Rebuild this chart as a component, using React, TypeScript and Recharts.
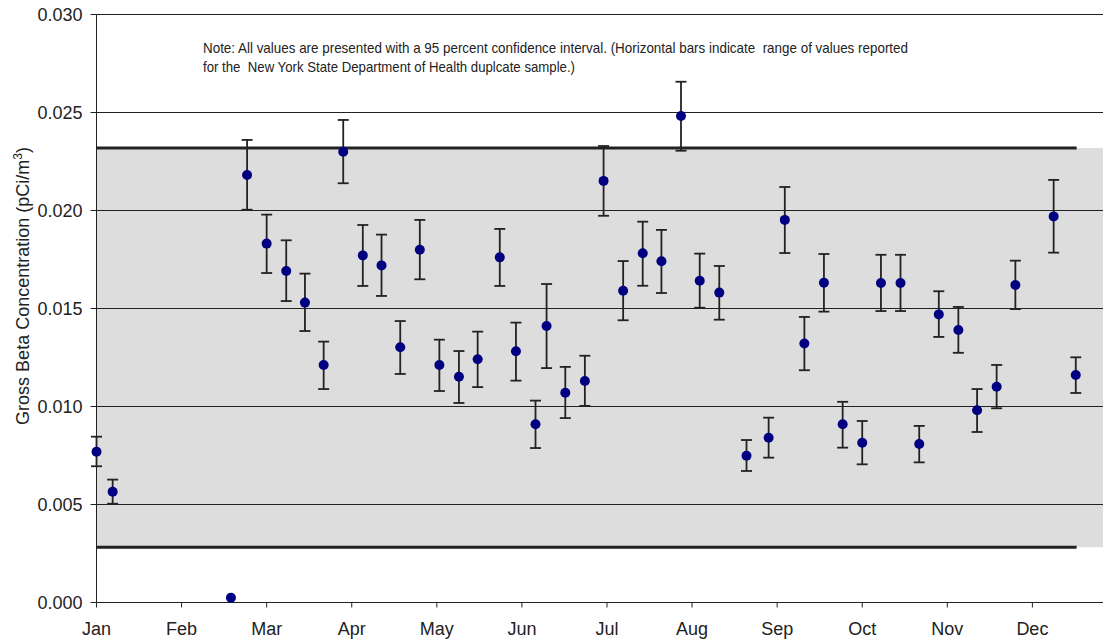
import React from 'react';
import {
  ScatterChart,
  Scatter,
  XAxis,
  YAxis,
  ErrorBar,
  ReferenceArea,
  ReferenceLine,
  Customized,
} from 'recharts';

const MONTHS = ['Jan', 'Feb', 'Mar', 'Apr', 'May', 'Jun', 'Jul', 'Aug', 'Sep', 'Oct', 'Nov', 'Dec'];
const MONTH_TICKS = [0, 1, 2, 3, 4, 5, 6, 7, 8, 9, 10, 11];
const Y_TICKS = [0, 0.005, 0.01, 0.015, 0.02, 0.025, 0.03];
const GRID_VALUES = [0.005, 0.01, 0.015, 0.02, 0.025, 0.03];

// sample date expressed in months from Jan 1
const SAMPLE_MONTH = [
  0.0, 0.19, 1.58, 1.77, 2.0, 2.23, 2.45, 2.67, 2.9, 3.13, 3.35, 3.57, 3.8, 4.03, 4.26, 4.48,
  4.74, 4.93, 5.16, 5.29, 5.51, 5.74, 5.96, 6.19, 6.42, 6.64, 6.87, 7.09, 7.32, 7.64, 7.9, 8.09,
  8.32, 8.55, 8.77, 9.0, 9.22, 9.45, 9.67, 9.9, 10.13, 10.35, 10.58, 10.8, 11.25, 11.51,
];
const GROSS_BETA = [
  0.00769, 0.00565, 0.00024, 0.02181, 0.01831, 0.01691, 0.0153, 0.01212, 0.023, 0.01771, 0.0172,
  0.01302, 0.018, 0.01212, 0.01152, 0.01241, 0.01761, 0.01282, 0.00909, 0.01411, 0.0107, 0.0113,
  0.02151, 0.01591, 0.01782, 0.01741, 0.02482, 0.01642, 0.01581, 0.00749, 0.00841, 0.01952,
  0.01321, 0.01631, 0.00909, 0.00815, 0.0163, 0.0163, 0.00809, 0.0147, 0.0139, 0.00981, 0.01101,
  0.0162, 0.0197, 0.01161,
];
// null = no confidence interval drawn
const CI_LOW: (number | null)[] = [
  0.00695, 0.00504, null, 0.02004, 0.01681, 0.01538, 0.01385, 0.01089, 0.02139, 0.01615,
  0.01564, 0.01166, 0.01649, 0.01079, 0.01018, 0.01099, 0.01615, 0.01132, 0.00788, 0.01196,
  0.00941, 0.01003, 0.01973, 0.0144, 0.01616, 0.01579, 0.02305, 0.01504, 0.01443, 0.00671,
  0.00739, 0.01783, 0.01185, 0.01484, 0.0079, 0.00705, 0.01487, 0.01487, 0.00715, 0.01355,
  0.01274, 0.0087, 0.00991, 0.01497, 0.01785, 0.01069,
];
const CI_HIGH: (number | null)[] = [
  0.00846, 0.00627, null, 0.0236, 0.01979, 0.01848, 0.01678, 0.01331, 0.02462, 0.01926,
  0.01877, 0.01436, 0.01952, 0.01341, 0.01283, 0.01382, 0.01906, 0.01428, 0.0103, 0.01625,
  0.01202, 0.01259, 0.02329, 0.01742, 0.01943, 0.01901, 0.02657, 0.0178, 0.01717, 0.00829,
  0.00943, 0.0212, 0.01457, 0.01778, 0.01024, 0.00926, 0.01774, 0.01774, 0.00901, 0.01588,
  0.01508, 0.01089, 0.01212, 0.01744, 0.02156, 0.01251,
];

// NYSDOH duplicate range
const RANGE_LOW = 0.00282;
const RANGE_HIGH = 0.02319;
const RANGE_LINE_END = 11.52;
const X_MAX = 11.83;

const NOTE_LINE_1 =
  'Note: All values are presented with a 95 percent confidence interval. (Horizontal bars indicate  range of values reported';
const NOTE_LINE_2 = 'for the  New York State Department of Health duplcate sample.)';

const FONT = '"Liberation Sans", Arial, sans-serif';
const NARROW = '"Liberation Sans Narrow", "Arial Narrow", "Liberation Sans", sans-serif';
const INK = '#222';

const data = SAMPLE_MONTH.map((m, i) => {
  const lo = CI_LOW[i];
  const hi = CI_HIGH[i];
  return {
    m,
    v: GROSS_BETA[i],
    err: lo == null || hi == null ? null : [GROSS_BETA[i] - lo, hi - GROSS_BETA[i]],
  };
});

const Annotations = () => (
  <g>
    <text
      x={29}
      y={286}
      transform="rotate(-90 29 286)"
      textAnchor="middle"
      fontSize={18}
      fontFamily={FONT}
      fill={INK}
    >
      Gross Beta Concentration (pCi/m
      <tspan dy={-7} fontSize={12}>
        3
      </tspan>
      <tspan dy={7}>)</tspan>
    </text>
    <text
      x={203}
      y={52.5}
      fontSize={15}
      fontFamily={NARROW}
      fill={INK}
      textLength={705}
      lengthAdjust="spacingAndGlyphs"
      style={{ whiteSpace: 'pre' }}
    >
      {NOTE_LINE_1}
    </text>
    <text
      x={203}
      y={72}
      fontSize={15}
      fontFamily={NARROW}
      fill={INK}
      textLength={372}
      lengthAdjust="spacingAndGlyphs"
      style={{ whiteSpace: 'pre' }}
    >
      {NOTE_LINE_2}
    </text>
  </g>
);

const Dot = (props: any) => <circle cx={props.cx} cy={props.cy} r={5} fill="#000080" />;

export default function App() {
  return (
    <div style={{ position: 'absolute', left: 0, top: 0, width: 1103, height: 640, background: '#fff' }}>
      <ScatterChart width={1103} height={640} margin={{ top: 14.5, right: 0, bottom: 7.5, left: 0 }}>
        <ReferenceArea
          x1={0}
          x2={X_MAX}
          y1={RANGE_LOW}
          y2={RANGE_HIGH}
          fill="#dddddd"
          fillOpacity={1}
          stroke="none"
        />
        {GRID_VALUES.map((g) => (
          <ReferenceLine key={g} y={g} stroke={INK} strokeWidth={1} />
        ))}
        <ReferenceLine
          segment={[
            { x: 0, y: RANGE_HIGH },
            { x: RANGE_LINE_END, y: RANGE_HIGH },
          ]}
          stroke={INK}
          strokeWidth={3}
        />
        <ReferenceLine
          segment={[
            { x: 0, y: RANGE_LOW },
            { x: RANGE_LINE_END, y: RANGE_LOW },
          ]}
          stroke={INK}
          strokeWidth={3}
        />
        <XAxis
          type="number"
          dataKey="m"
          domain={[0, X_MAX]}
          ticks={MONTH_TICKS}
          tickFormatter={(i: number) => MONTHS[i]}
          height={30}
          tickSize={5}
          tickMargin={15}
          axisLine={{ stroke: INK }}
          tickLine={{ stroke: INK }}
          tick={{ fill: INK, fontSize: 18, fontFamily: FONT }}
          interval={0}
        />
        <YAxis
          type="number"
          dataKey="v"
          domain={[0, 0.03]}
          ticks={Y_TICKS}
          tickFormatter={(v: number) => v.toFixed(3)}
          width={96.5}
          tickSize={6}
          tickMargin={8}
          axisLine={{ stroke: INK }}
          tickLine={{ stroke: INK }}
          tick={{ fill: INK, fontSize: 18, fontFamily: FONT }}
          interval={0}
        />
        <Scatter data={data} shape={Dot} isAnimationActive={false}>
          <ErrorBar dataKey="err" direction="y" width={5.5} stroke={INK} strokeWidth={1.8} />
        </Scatter>
        <Customized component={Annotations} />
      </ScatterChart>
    </div>
  );
}
